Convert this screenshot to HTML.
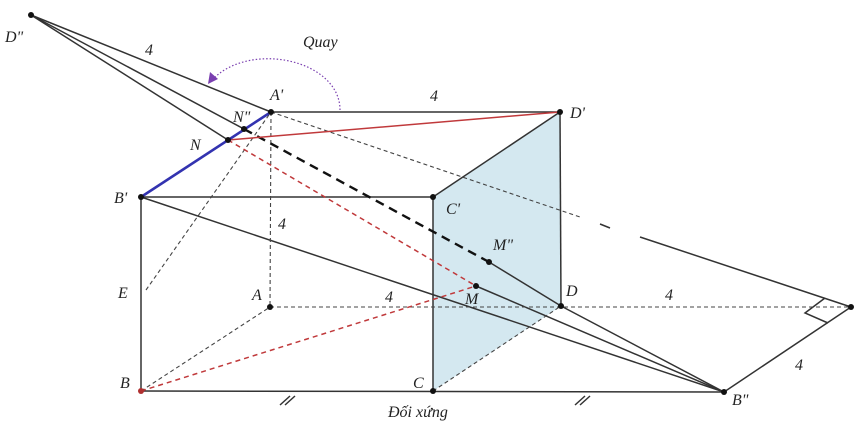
<!DOCTYPE html>
<html><head><meta charset="utf-8"><style>
body{margin:0;background:#fff}
svg text{font-family:"Liberation Serif",serif;font-style:italic;font-size:16px;fill:#222}
</style></head><body>
<svg width="863" height="431" viewBox="0 0 863 431" xmlns="http://www.w3.org/2000/svg">
<polygon points="433,197 560,112 561,306 433,391" fill="#d4e8f0"/>
<g stroke="#333" stroke-width="1.5" fill="none">
<line x1="31" y1="15" x2="271" y2="112"/>
<line x1="31" y1="15" x2="244" y2="129"/>
<line x1="31" y1="15" x2="228" y2="140"/>
<line x1="271" y1="112" x2="560" y2="112"/>
<line x1="141" y1="197" x2="433" y2="197"/>
<line x1="141" y1="197" x2="141" y2="391"/>
<line x1="433" y1="197" x2="433" y2="391"/>
<line x1="560" y1="112" x2="561" y2="306"/>
<line x1="433" y1="197" x2="560" y2="112"/>
<line x1="141" y1="391" x2="724" y2="392"/>
<line x1="141" y1="197" x2="724" y2="392"/>
<line x1="476" y1="286" x2="724" y2="392"/>
<line x1="489" y1="262" x2="561" y2="306"/>
<line x1="561" y1="306" x2="724" y2="392"/>
<line x1="724" y1="392" x2="851" y2="307"/>
<line x1="640" y1="237" x2="851" y2="307"/>
<line x1="600" y1="224" x2="610" y2="228"/>
<polyline points="825,298 805,313 828,323"/>
<line x1="280" y1="405" x2="290" y2="396"/><line x1="285" y1="405" x2="295" y2="396"/>
<line x1="575" y1="405" x2="585" y2="396"/><line x1="580" y1="405" x2="590" y2="396"/>
</g>
<g stroke="#444" stroke-width="1.1" fill="none" stroke-dasharray="4,3">
<line x1="271" y1="112" x2="270" y2="307"/>
<line x1="270" y1="307" x2="851" y2="307"/>
<line x1="141" y1="391" x2="270" y2="307"/>
<line x1="433" y1="391" x2="561" y2="306"/>
<line x1="146" y1="290" x2="271" y2="112"/>
<line x1="271" y1="112" x2="580" y2="217"/>
</g>
<line x1="244" y1="129" x2="489" y2="262" stroke="#111" stroke-width="2.4" stroke-dasharray="9,6"/>
<g stroke="#c0393b" stroke-width="1.5" fill="none">
<line x1="228" y1="140" x2="560" y2="112"/>
<line x1="228" y1="140" x2="476" y2="286" stroke-dasharray="5,4"/>
<line x1="141" y1="391" x2="476" y2="286" stroke-dasharray="5,4"/>
</g>
<line x1="141" y1="197" x2="271" y2="112" stroke="#3333b0" stroke-width="2.6"/>
<path d="M340,110 C340,60 250,40 212,80" stroke="#7a3fb0" stroke-width="1.2" fill="none" stroke-dasharray="1.5,2"/>
<polygon points="208,84 210,72 218,79" fill="#7a3fb0"/>
<g fill="#111">
<circle cx="31" cy="15" r="3"/><circle cx="271" cy="112" r="3"/><circle cx="560" cy="112" r="3"/>
<circle cx="244" cy="129" r="3"/><circle cx="228" cy="140" r="3"/><circle cx="141" cy="197" r="3"/>
<circle cx="433" cy="197" r="3"/><circle cx="270" cy="307" r="3"/><circle cx="561" cy="306" r="3"/>
<circle cx="141" cy="391" r="3" fill="#b03030"/><circle cx="433" cy="391" r="3"/><circle cx="724" cy="392" r="3"/>
<circle cx="851" cy="307" r="3"/><circle cx="489" cy="262" r="3"/><circle cx="476" cy="286" r="3"/>
</g>
<text x="5" y="42">D"</text><text x="145" y="55">4</text><text x="303" y="47">Quay</text>
<text x="270" y="100">A'</text><text x="430" y="101">4</text><text x="570" y="118">D'</text>
<text x="233" y="122">N"</text><text x="190" y="150">N</text><text x="114" y="203">B'</text>
<text x="446" y="214">C'</text><text x="278" y="229">4</text><text x="493" y="250">M"</text>
<text x="118" y="298">E</text><text x="252" y="300">A</text><text x="385" y="302">4</text>
<text x="465" y="304">M</text><text x="566" y="296">D</text><text x="665" y="300">4</text>
<text x="120" y="388">B</text><text x="413" y="388">C</text><text x="795" y="370">4</text>
<text x="732" y="405">B"</text><text x="388" y="417">Đối xứng</text>
</svg>
</body></html>
